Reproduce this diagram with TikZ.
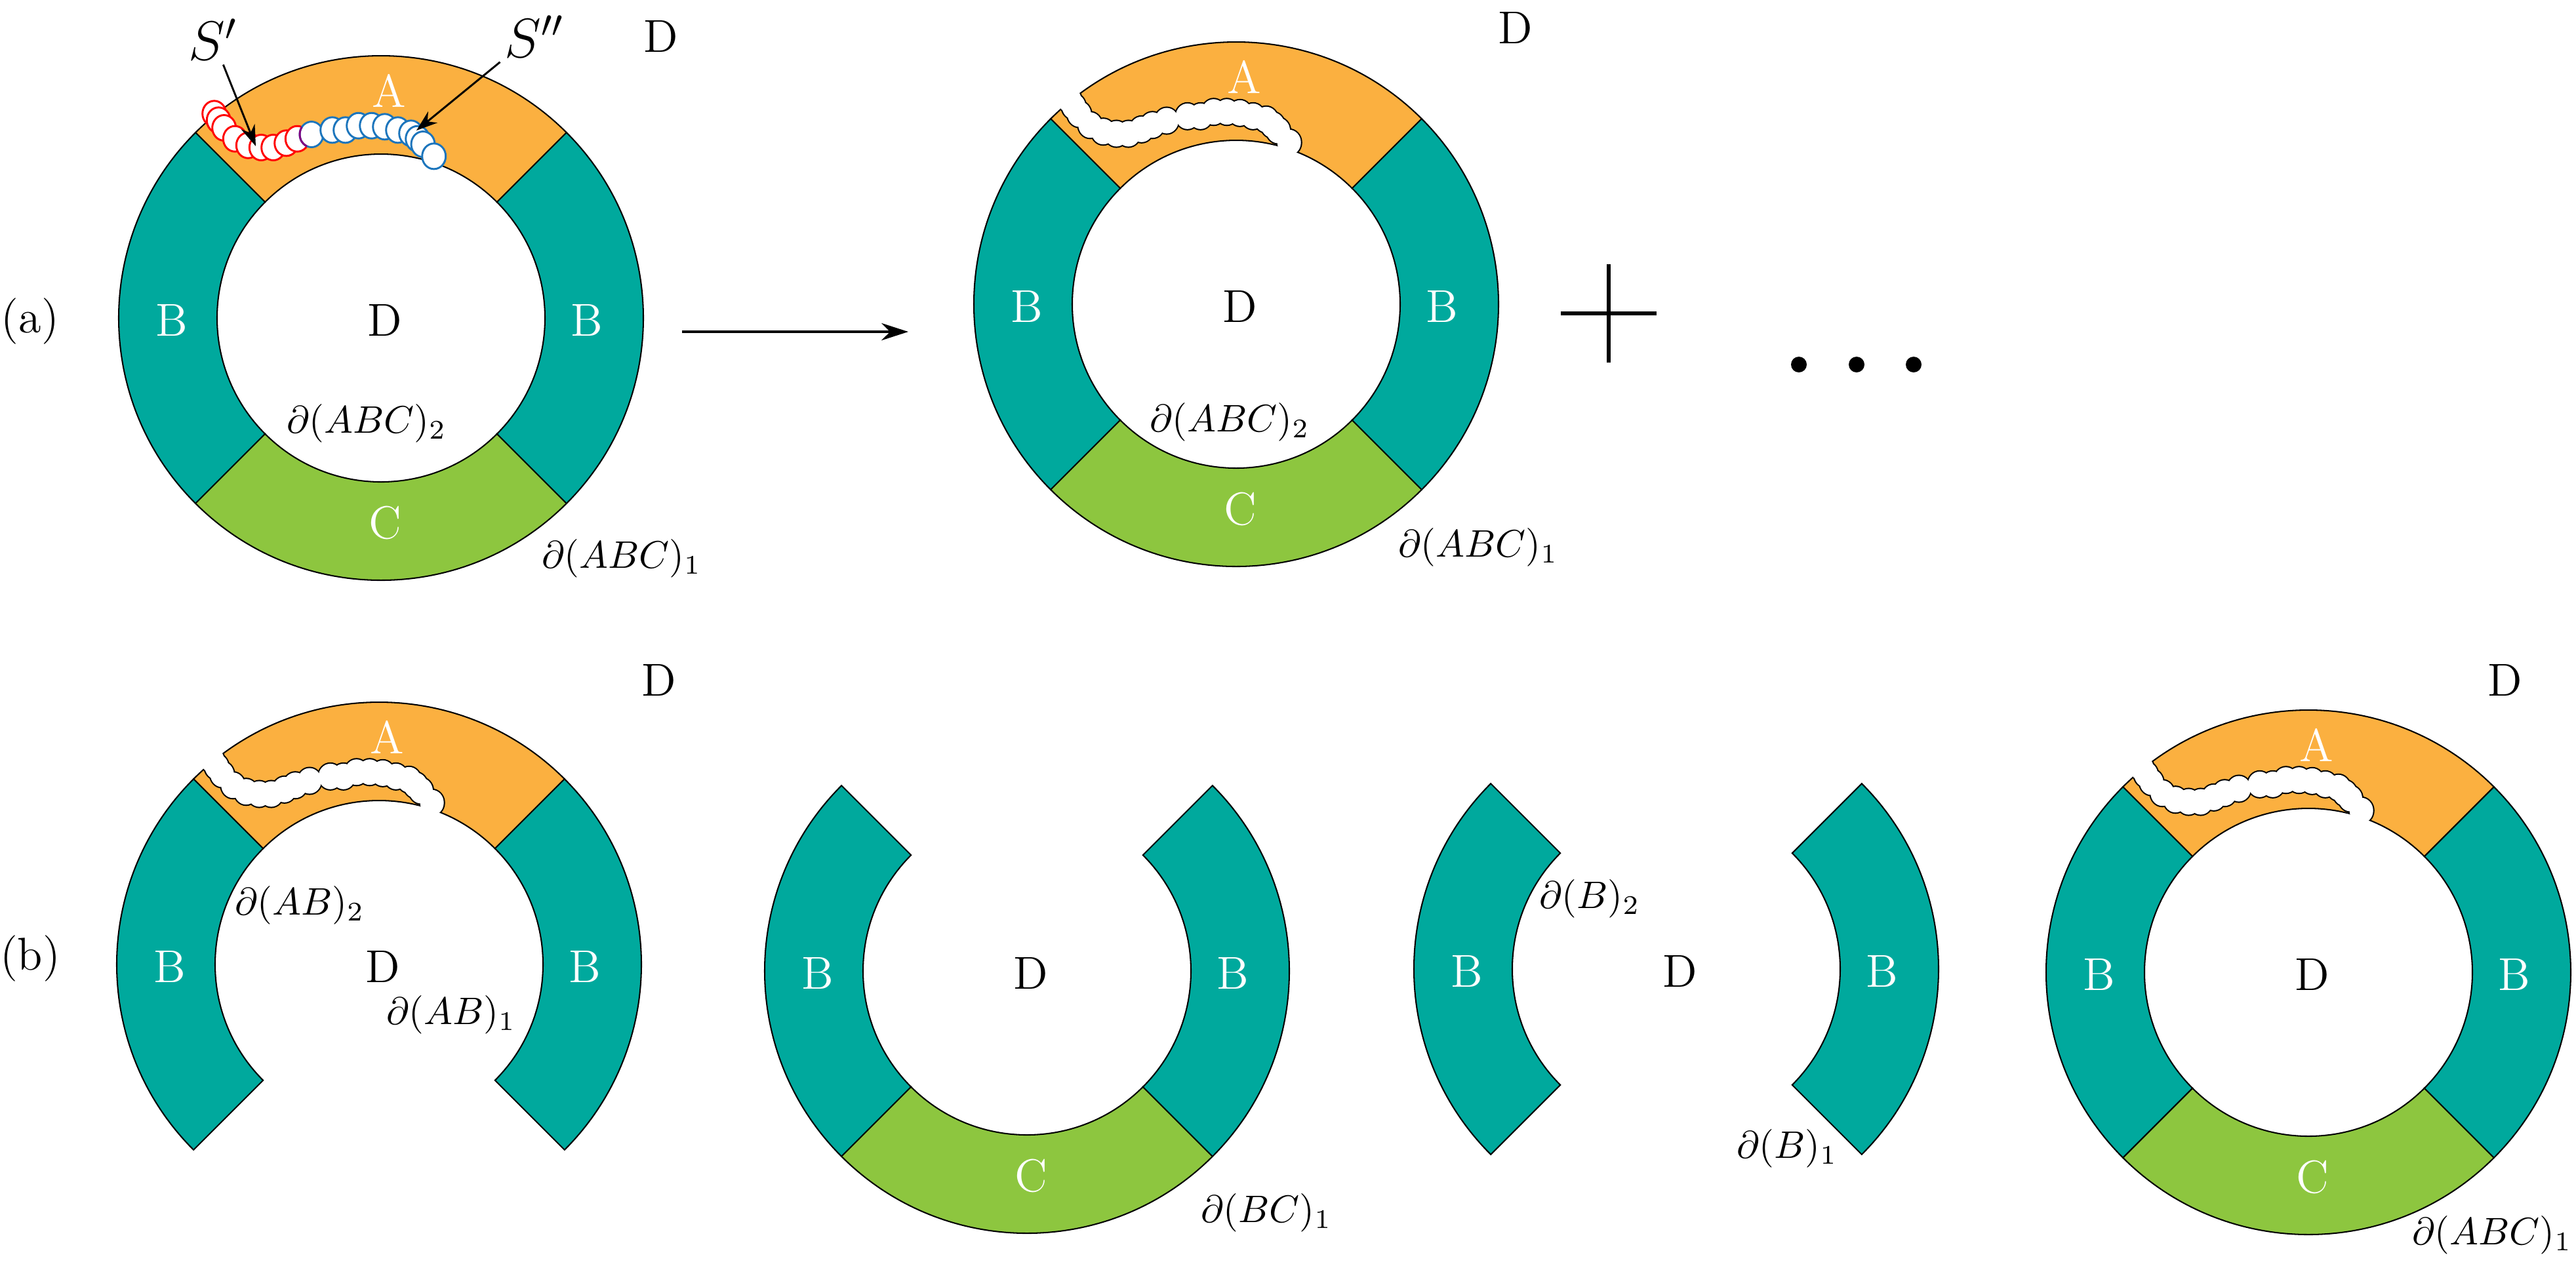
\documentclass[tikz,border=0pt]{standalone}
\usepackage{tikz}
\usetikzlibrary{arrows.meta}
\definecolor{orangeA}{HTML}{FBB040}
\definecolor{tealB}{HTML}{00A99D}
\definecolor{greenC}{HTML}{8DC63F}
\definecolor{blueS}{HTML}{1C75BC}
\tikzstyle{region} = [text=white, font=\large]
\tikzstyle{hole} = [font=\large]
\tikzstyle{bnd} = [font=\normalsize]
\tikzstyle{arrow} = [line width=0.6pt, -{Stealth[length=7pt,width=4.5pt]}]
\tikzstyle{ptr} = [line width=0.5pt, -{Stealth[length=5.5pt,width=3.8pt]}]
\tikzstyle{chainone} = [red, fill=white, line width=0.5pt]
\tikzstyle{chaintwo} = [blueS, fill=white, line width=0.5pt]

\newcommand{\Rout}{4}
\newcommand{\Rin}{2.5}
% one sector of the ring: start angle, end angle, colour
\newcommand{\ringpart}[3]{\filldraw[fill=#3, draw=black, line width=0.35pt] (#1:\Rout) arc[start angle=#1, end angle=#2, radius=\Rout] -- (#2:\Rin) arc[start angle=#2, end angle=#1, radius=\Rin] -- cycle;}
% centres of the small discs of S' and S''
\newcommand{\redlist}{-2.543/3.117, -2.477/3.017, -2.393/2.90, -2.227/2.733, -2.027/2.633, -1.827/2.60, -1.643/2.60, -1.443/2.667, -1.277/2.733}
\newcommand{\bluelist}{-1.06/2.80, -0.743/2.867, -0.543/2.867, -0.343/2.933, -0.143/2.933, 0.057/2.917, 0.257/2.867, 0.457/2.817, 0.557/2.733, 0.64/2.65, 0.807/2.467}
% region A with the strip S'S'' removed
\newcommand{\cutA}{%
  \ringpart{45}{135}{orangeA}
  \begin{scope}
    \clip (45:\Rout) arc[start angle=45, end angle=135, radius=\Rout] -- (135:\Rin) arc[start angle=135, end angle=45, radius=\Rin] -- cycle;
    \foreach \x/\y in \redlist {\draw[line width=0.7pt] (\x,\y) ellipse [x radius=0.18, y radius=0.195];}
    \foreach \x/\y in \bluelist {\draw[line width=0.7pt] (\x,\y) ellipse [x radius=0.18, y radius=0.195];}
  \end{scope}
  \foreach \x/\y in \redlist {\fill[white] (\x,\y) ellipse [x radius=0.18, y radius=0.195];}
  \foreach \x/\y in \bluelist {\fill[white] (\x,\y) ellipse [x radius=0.18, y radius=0.195];}}

\begin{document}
\begin{tikzpicture}[x=0.6cm, y=0.6cm]
\useasboundingbox (0,0) rectangle (39.28,-19.30);

% CENTRES
\coordinate (c1) at (5.81,-4.85);
\coordinate (c2) at (18.85,-4.64);
\coordinate (c3) at (5.78,-14.71);
\coordinate (c4) at (15.66,-14.81);
\coordinate (c5) at (25.56,-14.78);
\coordinate (c6) at (35.20,-14.83);

% (a) LEFT RING WITH S' AND S''
\node[font=\large] (lbla) at (0.46,-4.90) {(a)};
\begin{scope}[shift={(c1)}]
  \ringpart{45}{135}{orangeA}
  \ringpart{135}{225}{tealB}
  \ringpart{225}{315}{greenC}
  \ringpart{315}{405}{tealB}
  \foreach \x/\y in \redlist {\draw[chainone] (\x,\y) ellipse [x radius=0.18, y radius=0.195];}
  \foreach \x/\y in \bluelist {\draw[chaintwo] (\x,\y) ellipse [x radius=0.18, y radius=0.195];}
  \begin{scope}
    \clip (-1.277,2.733) ellipse [x radius=0.18, y radius=0.195];
    \draw[violet, line width=0.5pt] (-1.06,2.80) ellipse [x radius=0.18, y radius=0.195];
  \end{scope}
  \node[region] (a1A) at (0.12,3.47) {A};
  \node[region] (a1Bl) at (-3.19,-0.03) {B};
  \node[region] (a1Br) at (3.14,-0.03) {B};
  \node[region] (a1C) at (0.06,-3.12) {C};
  \node[hole] (a1D) at (0.06,-0.03) {D};
  \node[hole] (a1Do) at (4.27,4.30) {D};
  \node[bnd] (a1b2) at (-0.22,-1.61) {$\partial(ABC)_2$};
  \node[bnd] (a1b1) at (3.67,-3.67) {$\partial(ABC)_1$};
\end{scope}
\node[font=\Large, inner sep=1pt] (Sp) at (3.25,-0.60) {$S'$};
\node[font=\Large, inner sep=1pt] (Spp) at (8.15,-0.56) {$S''$};
\coordinate (tipSp) at (3.90,-2.23);
\coordinate (tipSpp) at (6.35,-1.99);
\draw[ptr] (Sp) -- (tipSp);
\draw[ptr] (Spp.south west) -- (tipSpp);

% ARROW
\coordinate (arrS) at (10.40,-5.06);
\coordinate (arrE) at (13.85,-5.06);
\draw[arrow] (arrS) -- (arrE);

% (a) RIGHT RING, STRIP CUT OUT
\begin{scope}[shift={(c2)}]
  \cutA
  \ringpart{135}{225}{tealB}
  \ringpart{225}{315}{greenC}
  \ringpart{315}{405}{tealB}
  \node[region] (a2A) at (0.12,3.47) {A};
  \node[region] (a2Bl) at (-3.19,-0.03) {B};
  \node[region] (a2Br) at (3.14,-0.03) {B};
  \node[region] (a2C) at (0.06,-3.12) {C};
  \node[hole] (a2D) at (0.06,-0.03) {D};
  \node[hole] (a2Do) at (4.26,4.22) {D};
  \node[bnd] (a2b2) at (-0.10,-1.80) {$\partial(ABC)_2$};
  \node[bnd] (a2b1) at (3.69,-3.71) {$\partial(ABC)_1$};
\end{scope}

% PLUS AND DOTS
\draw[line width=0.9pt] (23.80,-4.78) -- (25.26,-4.78);
\draw[line width=0.9pt] (24.53,-4.03) -- (24.53,-5.53);
\foreach \px in {27.43,28.31,29.18} {\fill (\px,-5.56) circle (0.12);}

% (b) RING WITHOUT C
\node[font=\large] (lblb) at (0.46,-14.62) {(b)};
\begin{scope}[shift={(c3)}]
  \cutA
  \ringpart{135}{225}{tealB}
  \ringpart{315}{405}{tealB}
  \node[region] (b1A) at (0.12,3.47) {A};
  \node[region] (b1Bl) at (-3.19,-0.03) {B};
  \node[region] (b1Br) at (3.14,-0.03) {B};
  \node[hole] (b1D) at (0.06,-0.03) {D};
  \node[hole] (b1Do) at (4.27,4.34) {D};
  \node[bnd] (b1b2) at (-1.21,0.90) {$\partial(AB)_2$};
  \node[bnd] (b1b1) at (1.10,-0.77) {$\partial(AB)_1$};
\end{scope}

% (b) RING WITHOUT A
\begin{scope}[shift={(c4)}]
  \ringpart{135}{225}{tealB}
  \ringpart{225}{315}{greenC}
  \ringpart{315}{405}{tealB}
  \node[region] (b2Bl) at (-3.19,-0.03) {B};
  \node[region] (b2Br) at (3.14,-0.03) {B};
  \node[region] (b2C) at (0.06,-3.12) {C};
  \node[hole] (b2D) at (0.06,-0.03) {D};
  \node[bnd] (b2b1) at (3.65,-3.69) {$\partial(BC)_1$};
\end{scope}

% (b) ONLY B
\begin{scope}[shift={(c5)}]
  \ringpart{135}{225}{tealB}
  \ringpart{315}{405}{tealB}
  \node[region] (b3Bl) at (-3.19,-0.03) {B};
  \node[region] (b3Br) at (3.14,-0.03) {B};
  \node[hole] (b3D) at (0.06,-0.03) {D};
  \node[bnd] (b3b2) at (-1.32,1.07) {$\partial(B)_2$};
  \node[bnd] (b3b1) at (1.69,-2.74) {$\partial(B)_1$};
\end{scope}

% (b) FULL RING, STRIP CUT OUT
\begin{scope}[shift={(c6)}]
  \cutA
  \ringpart{135}{225}{tealB}
  \ringpart{225}{315}{greenC}
  \ringpart{315}{405}{tealB}
  \node[region] (b4A) at (0.12,3.47) {A};
  \node[region] (b4Bl) at (-3.19,-0.03) {B};
  \node[region] (b4Br) at (3.14,-0.03) {B};
  \node[region] (b4C) at (0.06,-3.12) {C};
  \node[hole] (b4D) at (0.06,-0.03) {D};
  \node[hole] (b4Do) at (3.00,4.46) {D};
  \node[bnd] (b4b1) at (2.80,-4.01) {$\partial(ABC)_1$};
\end{scope}

\end{tikzpicture}
\end{document}
